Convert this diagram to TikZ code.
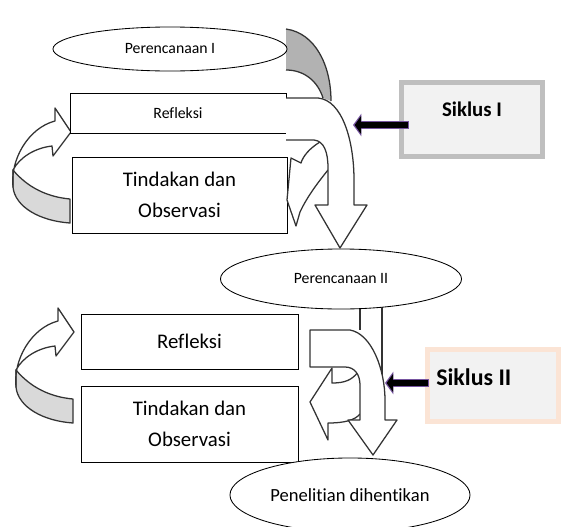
\documentclass[tikz,border=0pt]{standalone}
\usepackage{fontspec}
\setmainfont[Ligatures=NoCommon]{Carlito}
\definecolor{abu}{RGB}{191,191,191}
\definecolor{abumuda}{RGB}{242,242,242}
\definecolor{peach}{RGB}{251,228,213}
\definecolor{ungu}{RGB}{118,84,160}
\usetikzlibrary{shapes, arrows.meta, calc}

\begin{document}
\begin{tikzpicture}[x=0.025cm, y=-0.025cm,
  scan/.style={draw=black!80, line width=0.9pt, fill=white, line join=round},
  pita/.style={scan, fill=black!15},
  oval/.style={draw, ellipse, fill=white, inner sep=0pt, line width=0.6pt},
  kotak/.style={draw, rectangle, fill=white, inner sep=0pt, line width=0.6pt, align=center},
  kecil/.style={font=\fontsize{11.2}{13}\selectfont},
  besar/.style={font=\fontsize{14.8}{22}\selectfont},
  siklusbox/.style={fill=abumuda, line width=3.6pt},
  panahbawah/.style={ungu, line width=6.2pt, -{Triangle[length=6pt, width=16pt]}},
  panahatas/.style={black, line width=4.2pt, -{Triangle[length=4.5pt, width=12.5pt]}, shorten >=1.2pt}
]
  \useasboundingbox (0,0) rectangle (561,527);

  % Left rings (Tindakan -> Refleksi)
  \foreach \dx/\dy in {0/0, 3/200} {
    \begin{scope}[shift={(\dx,\dy)}]
      \draw[pita] (13,170) .. controls (28,188) and (48,197) .. (70,199) -- (70,223) .. controls (40,221) and (15,207) .. (13,187) -- cycle;
      \draw[scan] (13,187) .. controls (10,160) and (28,128) .. (55,121) -- (55,108) -- (71,132) -- (53,156) -- (52,146) .. controls (35,148) and (20,157) .. (13,170) -- cycle;
    \end{scope}
  }

  % Siklus I
  \node[kotak, kecil, minimum width=5.4cm, minimum height=1cm] (ref1) at (178,113) {Refleksi};
  \node[kotak, besar, minimum width=5.375cm, minimum height=1.9cm] (tin1) at (179.5,195) {Tindakan dan\\Observasi};
  \path[fill=black!30] (286,29) .. controls (315,33) and (331,65) .. (331,101) -- (323,98) .. controls (318,82) and (305,70) .. (286,70) -- cycle;
  \draw[draw=black!80, line width=0.9pt] (286,29) .. controls (315,33) and (331,65) .. (331,101);
  \draw[draw=black!80, line width=0.9pt] (323,98) .. controls (318,82) and (305,70) .. (286,70);
  \draw[scan] (320,142) .. controls (310,148) and (303,156) .. (301,163) -- (291,158) -- (287,200) -- (296,226) -- (300,212) .. controls (308,195) and (320,180) .. (328,170);
  \draw[scan] (286,98) -- (318,98) .. controls (342,100) and (354,140) .. (354,180) -- (354,205) -- (367,205) -- (340,248) -- (315,205) -- (328,205) -- (328,168) .. controls (328,152) and (324,141) .. (314,140) -- (286,140);

  % Siklus II
  \node[kotak, besar, minimum width=5.425cm, minimum height=1.375cm] (ref2) at (189.5,341.5) {Refleksi};
  \node[kotak, besar, minimum width=5.425cm, minimum height=1.9cm] (tin2) at (189.5,424) {Tindakan dan\\Observasi};
  \draw[draw=black!80, line width=0.9pt] (360,290) -- (360,330);
  \draw[draw=black!80, line width=0.9pt] (382,290) -- (382,378);
  \draw[scan] (358,372) .. controls (352,380) and (345,383) .. (332,383) -- (332,368) -- (310,402) -- (328,440) -- (328,423) .. controls (345,423) and (355,420) .. (360,414);
  \draw[scan] (310,330) -- (350,330) .. controls (372,334) and (385,370) .. (385,400) -- (385,420) -- (397,420) -- (373,455) -- (348,420) -- (360,420) -- (360,385) .. controls (360,375) and (355,367) .. (345,367) -- (310,367) -- cycle;

  % Ellipses
  \node[oval, kecil, minimum width=5.85cm, minimum height=1.1cm] (ren1) at (170,49) {Perencanaan I};
  \node[oval, kecil, minimum width=6.025cm, minimum height=1.5cm] (ren2) at (341,279) {Perencanaan II};
  \node[oval, font=\fontsize{13.2}{15}\selectfont, minimum width=6cm, minimum height=1.85cm] (henti) at (350,495) {Penelitian dihentikan};

  % Labels
  \node[siklusbox, draw=abu, minimum width=3.525cm, minimum height=1.85cm] (s1) at (472,119.5) {};
  \node[font=\fontsize{14.8}{17}\selectfont\bfseries] (t1) at (472,109) {Siklus I};
  \node[siklusbox, draw=peach, minimum width=3.275cm, minimum height=1.8cm] (s2) at (493,385.5) {};
  \node[font=\fontsize{17}{20}\selectfont\bfseries, anchor=west, inner sep=0pt] (t2) at (436,377) {Siklus II};

  \coordinate (u1) at (353,125);
  \coordinate (u2) at (385,383);
  \draw[panahbawah] ($(s1.west |- u1)+(10,0)$) -- (u1);
  \draw[panahatas] ($(s1.west |- u1)+(9,0)$) -- (u1);
  \draw[panahbawah] ($(s2.west |- u2)+(4,0)$) -- (u2);
  \draw[panahatas] ($(s2.west |- u2)+(3,0)$) -- (u2);
\end{tikzpicture}
\end{document}
